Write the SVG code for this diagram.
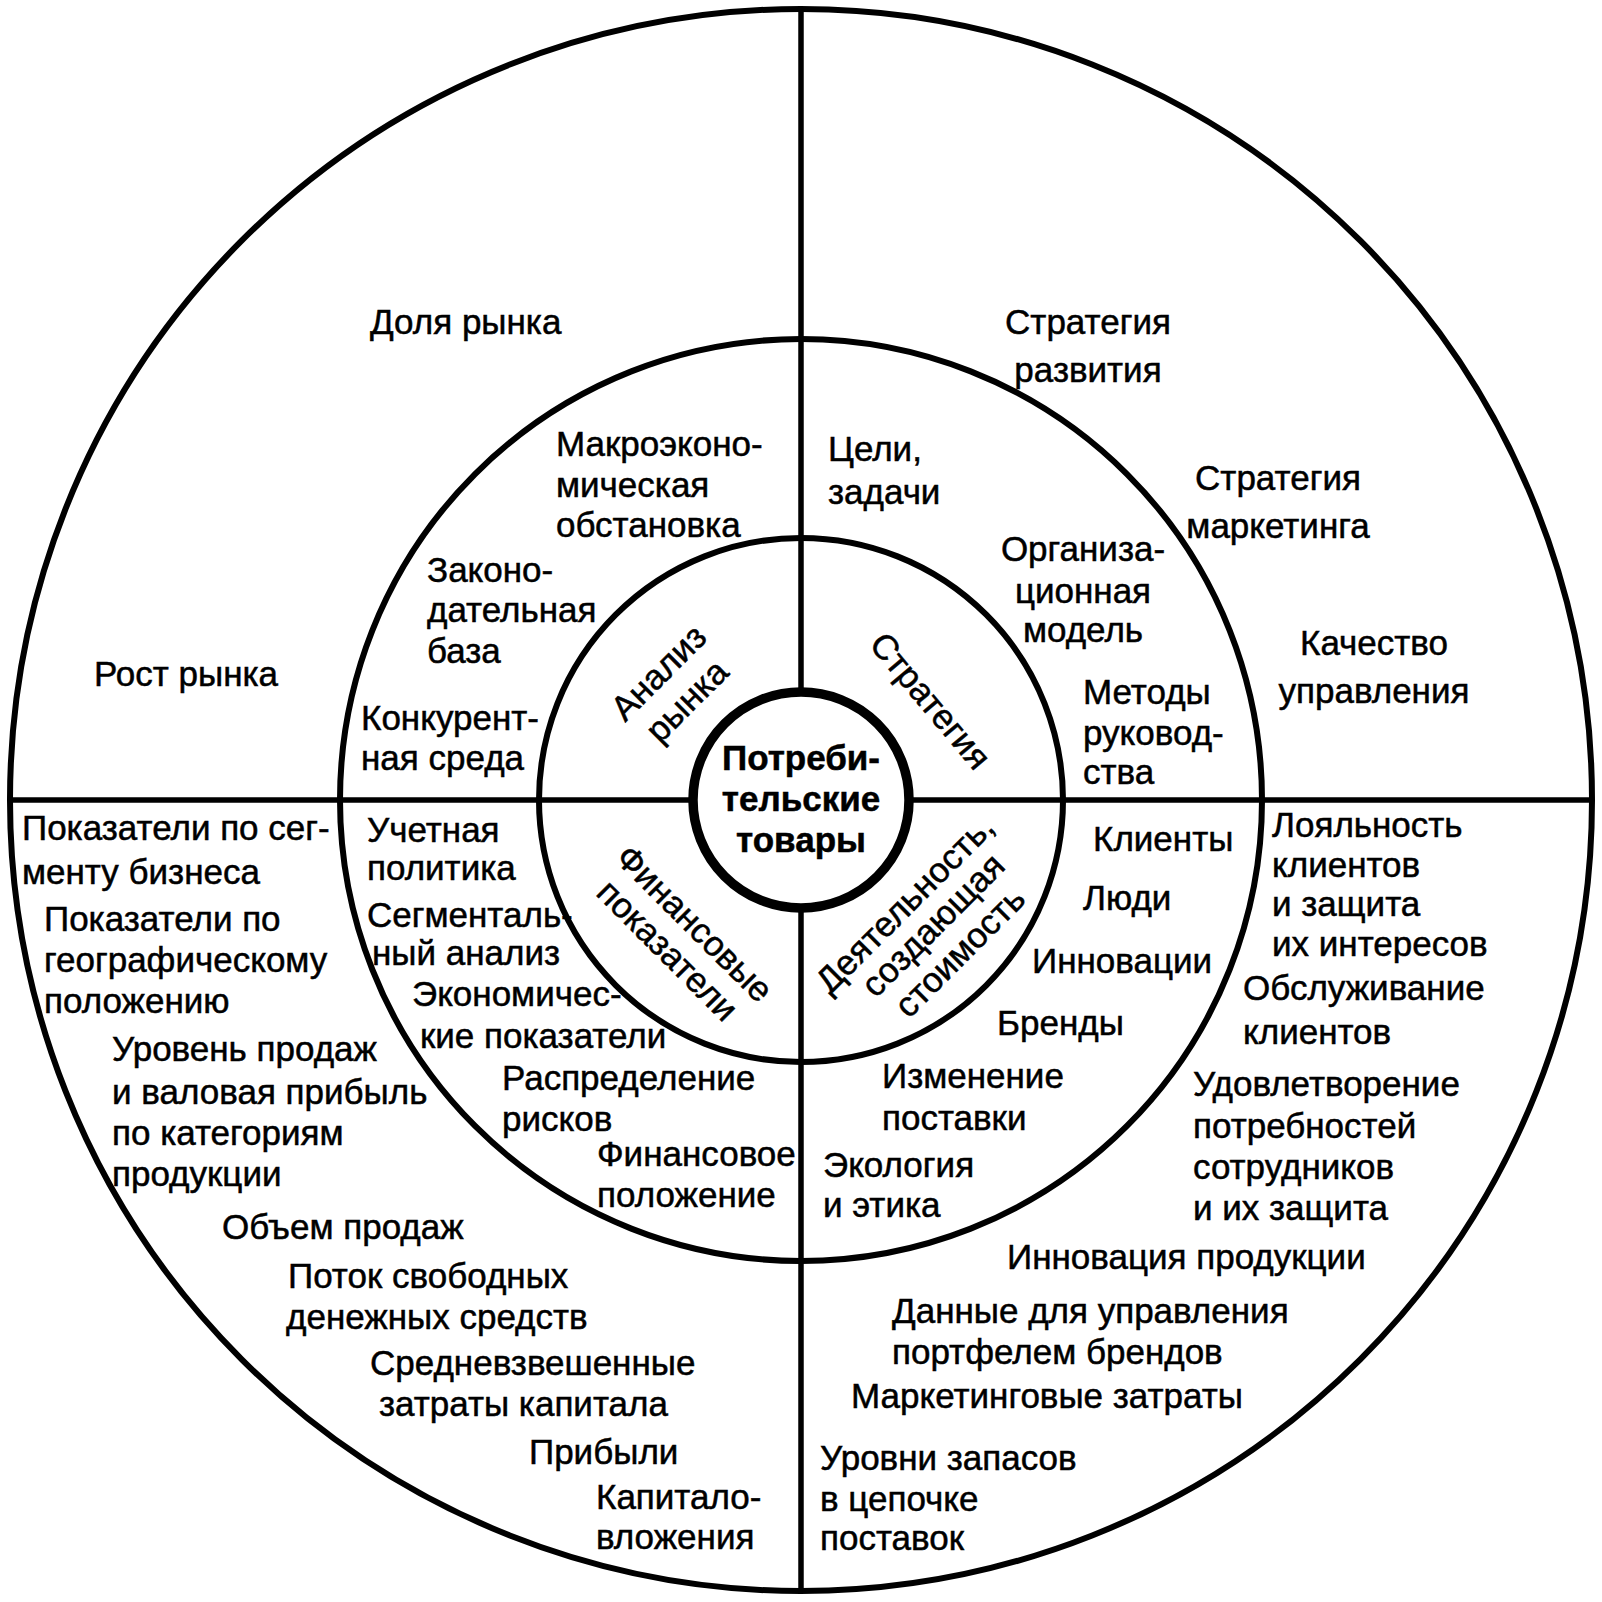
<svg xmlns="http://www.w3.org/2000/svg" width="1602" height="1602" viewBox="0 0 1602 1602">
<style>
.ring{fill:none;stroke:#000;stroke-width:6}
.core{fill:none;stroke:#000;stroke-width:9.5}
.ln{stroke:#000;stroke-width:5.5;fill:none}
text{font-family:"Liberation Sans",Arial,Helvetica,sans-serif;font-size:35px;fill:#000;stroke:#000;stroke-width:0.5}
.b{font-weight:bold;font-size:35px}
.m{text-anchor:middle}
</style>
<rect width="1602" height="1602" fill="#fff"/>
<g id="rings">
<circle class="ring" cx="801" cy="800" r="791"/>
<circle class="ring" cx="801" cy="800" r="461"/>
<circle class="ring" cx="801" cy="800" r="262"/>
</g>
<g id="connectors">
<line class="ln" x1="801" y1="8" x2="801" y2="692"/>
<line class="ln" x1="801" y1="908" x2="801" y2="1592"/>
<line class="ln" x1="9" y1="800" x2="693" y2="800"/>
<line class="ln" x1="909" y1="800" x2="1593" y2="800"/>
</g>
<g id="center">
<circle class="core" cx="801" cy="800" r="108" fill="#fff"/>
<text class="b m"><tspan x="801" y="770">Потреби-</tspan><tspan x="801" y="811">тельские</tspan><tspan x="801" y="852">товары</tspan></text>
</g>
<g id="sector-labels">
<text id="analiz" class="m" transform="translate(674,688) rotate(-45)"><tspan x="0" y="-10">Анализ</tspan><tspan x="0" y="30">рынка</tspan></text>
<text id="strategy" class="m" transform="translate(929,702) rotate(50)"><tspan x="0" y="10">Стратегия</tspan></text>
<text id="finance" class="m" transform="translate(679,939) rotate(45)"><tspan x="0" y="-10">Финансовые</tspan><tspan x="0" y="28">показатели</tspan></text>
<text id="value" class="m" transform="translate(935,927) rotate(-45)"><tspan x="-5" y="-26">Деятельность,</tspan><tspan x="0" y="9">создающая</tspan><tspan x="0" y="47">стоимость</tspan></text>
</g>
<g id="tl-outer">
<text x="370" y="334">Доля рынка</text>
<text x="94" y="686">Рост рынка</text>
</g>
<g id="tl-middle">
<text><tspan x="556" y="456">Макроэконо-</tspan><tspan x="556" y="497">мическая</tspan><tspan x="556" y="537">обстановка</tspan></text>
<text><tspan x="427" y="582">Законо-</tspan><tspan x="427" y="622">дательная</tspan><tspan x="427" y="663">база</tspan></text>
<text><tspan x="361" y="730">Конкурент-</tspan><tspan x="361" y="770">ная среда</tspan></text>
</g>
<g id="tr-outer">
<text class="m"><tspan x="1088" y="334">Стратегия</tspan><tspan x="1088" y="382">развития</tspan></text>
<text class="m"><tspan x="1278" y="490">Стратегия</tspan><tspan x="1278" y="538">маркетинга</tspan></text>
<text class="m"><tspan x="1374" y="655">Качество</tspan><tspan x="1374" y="703">управления</tspan></text>
</g>
<g id="tr-middle">
<text><tspan x="828" y="461">Цели,</tspan><tspan x="828" y="504">задачи</tspan></text>
<text class="m"><tspan x="1083" y="561">Организа-</tspan><tspan x="1083" y="603">ционная</tspan><tspan x="1083" y="642">модель</tspan></text>
<text><tspan x="1083" y="704">Методы</tspan><tspan x="1083" y="745">руковод-</tspan><tspan x="1083" y="784">ства</tspan></text>
</g>
<g id="bl-outer">
<text><tspan x="22" y="840">Показатели по сег-</tspan><tspan x="22" y="884">менту бизнеса</tspan></text>
<text><tspan x="44" y="931">Показатели по</tspan><tspan x="44" y="972">географическому</tspan><tspan x="44" y="1013">положению</tspan></text>
<text><tspan x="112" y="1061">Уровень продаж</tspan><tspan x="112" y="1104">и валовая прибыль</tspan><tspan x="112" y="1145">по категориям</tspan><tspan x="112" y="1186">продукции</tspan></text>
<text x="222" y="1239">Объем продаж</text>
<text><tspan x="288" y="1288">Поток свободных</tspan><tspan x="286" y="1329">денежных средств</tspan></text>
<text><tspan x="370" y="1375">Средневзвешенные</tspan><tspan x="379" y="1416">затраты капитала</tspan></text>
<text x="529" y="1464">Прибыли</text>
<text><tspan x="596" y="1509">Капитало-</tspan><tspan x="596" y="1549">вложения</tspan></text>
</g>
<g id="bl-middle">
<text><tspan x="367" y="842">Учетная</tspan><tspan x="367" y="880">политика</tspan></text>
<text><tspan x="367" y="927">Сегменталь-</tspan><tspan x="372" y="965">ный анализ</tspan></text>
<text><tspan x="412" y="1006">Экономичес-</tspan><tspan x="420" y="1048">кие показатели</tspan></text>
<text><tspan x="502" y="1090">Распределение</tspan><tspan x="502" y="1131">рисков</tspan></text>
<text><tspan x="597" y="1166">Финансовое</tspan><tspan x="597" y="1207">положение</tspan></text>
</g>
<g id="br-middle">
<text x="1093" y="851">Клиенты</text>
<text x="1083" y="910">Люди</text>
<text x="1032" y="973">Инновации</text>
<text x="997" y="1035">Бренды</text>
<text><tspan x="882" y="1088">Изменение</tspan><tspan x="882" y="1130">поставки</tspan></text>
<text><tspan x="823" y="1177">Экология</tspan><tspan x="823" y="1217">и этика</tspan></text>
</g>
<g id="br-outer">
<text><tspan x="1272" y="837">Лояльность</tspan><tspan x="1272" y="877">клиентов</tspan><tspan x="1272" y="916">и защита</tspan><tspan x="1272" y="956">их интересов</tspan></text>
<text><tspan x="1243" y="1000">Обслуживание</tspan><tspan x="1243" y="1044">клиентов</tspan></text>
<text><tspan x="1193" y="1096">Удовлетворение</tspan><tspan x="1193" y="1138">потребностей</tspan><tspan x="1193" y="1179">сотрудников</tspan><tspan x="1193" y="1220">и их защита</tspan></text>
<text x="1007" y="1269">Инновация продукции</text>
<text><tspan x="892" y="1323">Данные для управления</tspan><tspan x="892" y="1364">портфелем брендов</tspan></text>
<text x="851" y="1408">Маркетинговые затраты</text>
<text><tspan x="820" y="1470">Уровни запасов</tspan><tspan x="820" y="1511">в цепочке</tspan><tspan x="820" y="1550">поставок</tspan></text>
</g>
</svg>
